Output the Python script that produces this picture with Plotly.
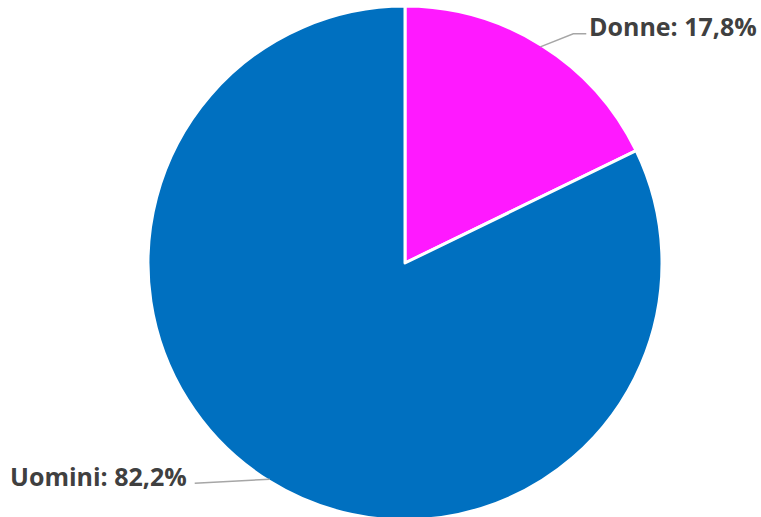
import math
import plotly.graph_objects as go

labels = ["Donne", "Uomini"]
values = [17.8, 82.2]
value_text = ["17,8%", "82,2%"]
colors = ["#FF19FF", "#0070C0"]

W, H = 761, 525
cx, cy, R = 405, 263, 255
RD = R + 2  # plotly draws slightly inside its domain

fig = go.Figure(go.Pie(
    labels=labels, values=values, sort=False, direction="clockwise", rotation=0,
    marker=dict(colors=colors, line=dict(color="white", width=3)),
    textinfo="none", hoverinfo="label+percent", showlegend=False,
    domain=dict(x=[(cx - RD) / W, (cx + RD) / W],
                y=[1 - (cy + RD) / H, 1 - (cy - RD) / H]),
))

def px(x, y):
    return x / W, 1 - y / H

shapes, annos = [], []
total = sum(values)
cum = 0
for i, (lab, v, vt) in enumerate(zip(labels, values, value_text)):
    mid = (cum + v / 2) / total * 2 * math.pi
    cum += v
    sx, sy = cx + R * math.sin(mid), cy - R * math.cos(mid)
    if math.sin(mid) >= 0:
        bx, by = sx + 33, sy - 13
        ex, ey = bx + 13, by
        tx, anchor = ex + 1, "left"
        ty = by - 8
    else:
        bx, by = sx - 75, sy + 4
        ex, ey = bx, by
        tx, anchor = ex - 6, "right"
        ty = by - 7
    p0, p1, p2 = px(sx, sy), px(bx, by), px(ex, ey)
    shapes.append(dict(type="path", xref="paper", yref="paper",
                       path=f"M {p0[0]} {p0[1]} L {p1[0]} {p1[1]} L {p2[0]} {p2[1]}",
                       line=dict(color="#A6A6A6", width=1.5)))
    t = px(tx, ty)
    annos.append(dict(x=t[0], y=t[1], xref="paper", yref="paper", showarrow=False,
                      xanchor=anchor, yanchor="middle",
                      text=f"<b>{lab}: {vt}</b>",
                      font=dict(family="Open Sans", size=25, color="#404040")))

fig.update_layout(width=W, height=H, margin=dict(l=0, r=0, t=0, b=0),
                  paper_bgcolor="white", plot_bgcolor="white",
                  shapes=shapes, annotations=annos)
fig.write_html("out.html", config={"displayModeBar": False},
               post_script="document.body.style.margin='0';")
